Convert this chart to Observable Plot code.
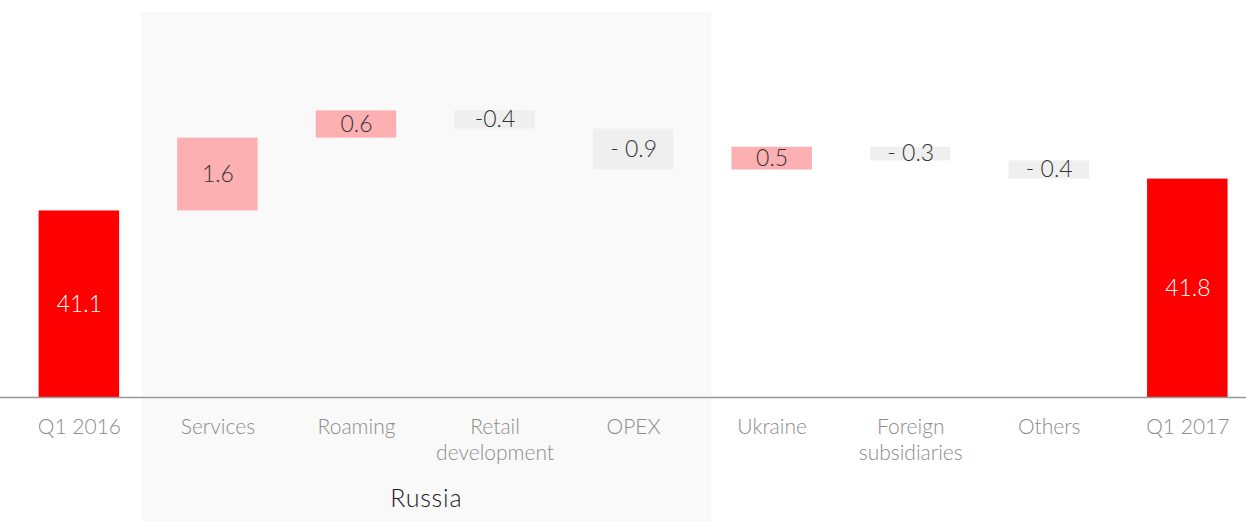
<!DOCTYPE html>
<html>
<head>
<meta charset="utf-8">
<script src="https://cdn.jsdelivr.net/npm/d3@7"></script>
<script src="https://cdn.jsdelivr.net/npm/@observablehq/plot@0.6"></script>
<style>
  html, body { margin: 0; padding: 0; background: #ffffff; }
  #chart svg { display: block; font-family: Lato, "Open Sans", sans-serif; font-weight: 300; }
</style>
</head>
<body>
<div id="chart"></div>
<script>
const categories = ["Q1 2016", "Services", "Roaming", "Retail development", "OPEX", "Ukraine", "Foreign subsidiaries", "Others", "Q1 2017"];
const tickLabels = ["Q1 2016", "Services", "Roaming", "Retail\ndevelopment", "OPEX", "Ukraine", "Foreign\nsubsidiaries", "Others", "Q1 2017"];
const kinds = ["total", "up", "up", "down", "down", "up", "down", "down", "total"];
const values = [41.1, 1.6, 0.6, -0.4, -0.9, 0.5, -0.3, -0.4, 41.8];
const valueLabels = ["41.1", "1.6", "0.6", "-0.4", "- 0.9", "0.5", "- 0.3", "- 0.4", "41.8"];
const russiaGroup = ["Services", "Roaming", "Retail development", "OPEX"];
const groupLabel = "Russia";
const axisBase = 37;

const colors = {total: "#ff0000", up: "#fdb0b1", down: "#efefef"};
const labelColors = {total: "#ffffff", up: "#333333", down: "#333333"};

let running = 0;
const rows = categories.map((c, i) => {
  let y1, y2;
  if (kinds[i] === "total") { y1 = axisBase; y2 = values[i]; running = values[i]; }
  else { y1 = running; y2 = running + values[i]; running = y2; }
  return {cat: c, tick: tickLabels[i], kind: kinds[i], y1, y2, mid: (y1 + y2) / 2, label: valueLabels[i]};
});

// background panel for the Russia group
function russiaPanel(index, scales, values, dimensions) {
  const x = scales.x, y = scales.y;
  const bw = x.bandwidth();
  const left = x(russiaGroup[0]) - 36;
  const right = x(russiaGroup[russiaGroup.length - 1]) + bw + 38;
  const g = d3.create("svg:g");
  g.append("rect")
    .attr("x", left).attr("width", right - left)
    .attr("y", y(45.46)).attr("height", dimensions.height - y(45.46))
    .attr("fill", "#f9f9f9");
  g.append("text")
    .attr("x", (left + right) / 2).attr("y", y(axisBase) + 110)
    .attr("text-anchor", "middle")
    .attr("font-size", 25).attr("font-weight", 300)
    .attr("letter-spacing", 0.8).attr("fill", "#1a1a1a")
    .text(groupLabel);
  return g.node();
}

const chart = Plot.plot({
  width: 1246,
  height: 521,
  marginLeft: 0,
  marginRight: 0,
  marginTop: 33,
  marginBottom: 124,
  x: {domain: categories, range: [9.6, 1256.6], paddingInner: 0.419, paddingOuter: 0.2095, align: 0.5, round: false, axis: null},
  y: {domain: [37, 45], axis: null},
  marks: [
    russiaPanel,
    Plot.barY(rows, {x: "cat", y1: "y1", y2: "y2", fill: d => colors[d.kind]}),
    Plot.ruleY([axisBase], {stroke: "#999999", strokeWidth: 1.6}),
    Plot.text(rows, {x: "cat", y: "mid", text: "label", fill: d => labelColors[d.kind], fontSize: 23, fontWeight: 300, letterSpacing: 0.6}),
    Plot.text(rows, {x: "cat", y: axisBase, text: "tick", dy: 19, lineAnchor: "top", lineHeight: 1.2, fill: "#8c8c8c", fontSize: 21, fontWeight: 300, letterSpacing: 0.6})
  ]
});
document.getElementById("chart").append(chart);
</script>
</body>
</html>
